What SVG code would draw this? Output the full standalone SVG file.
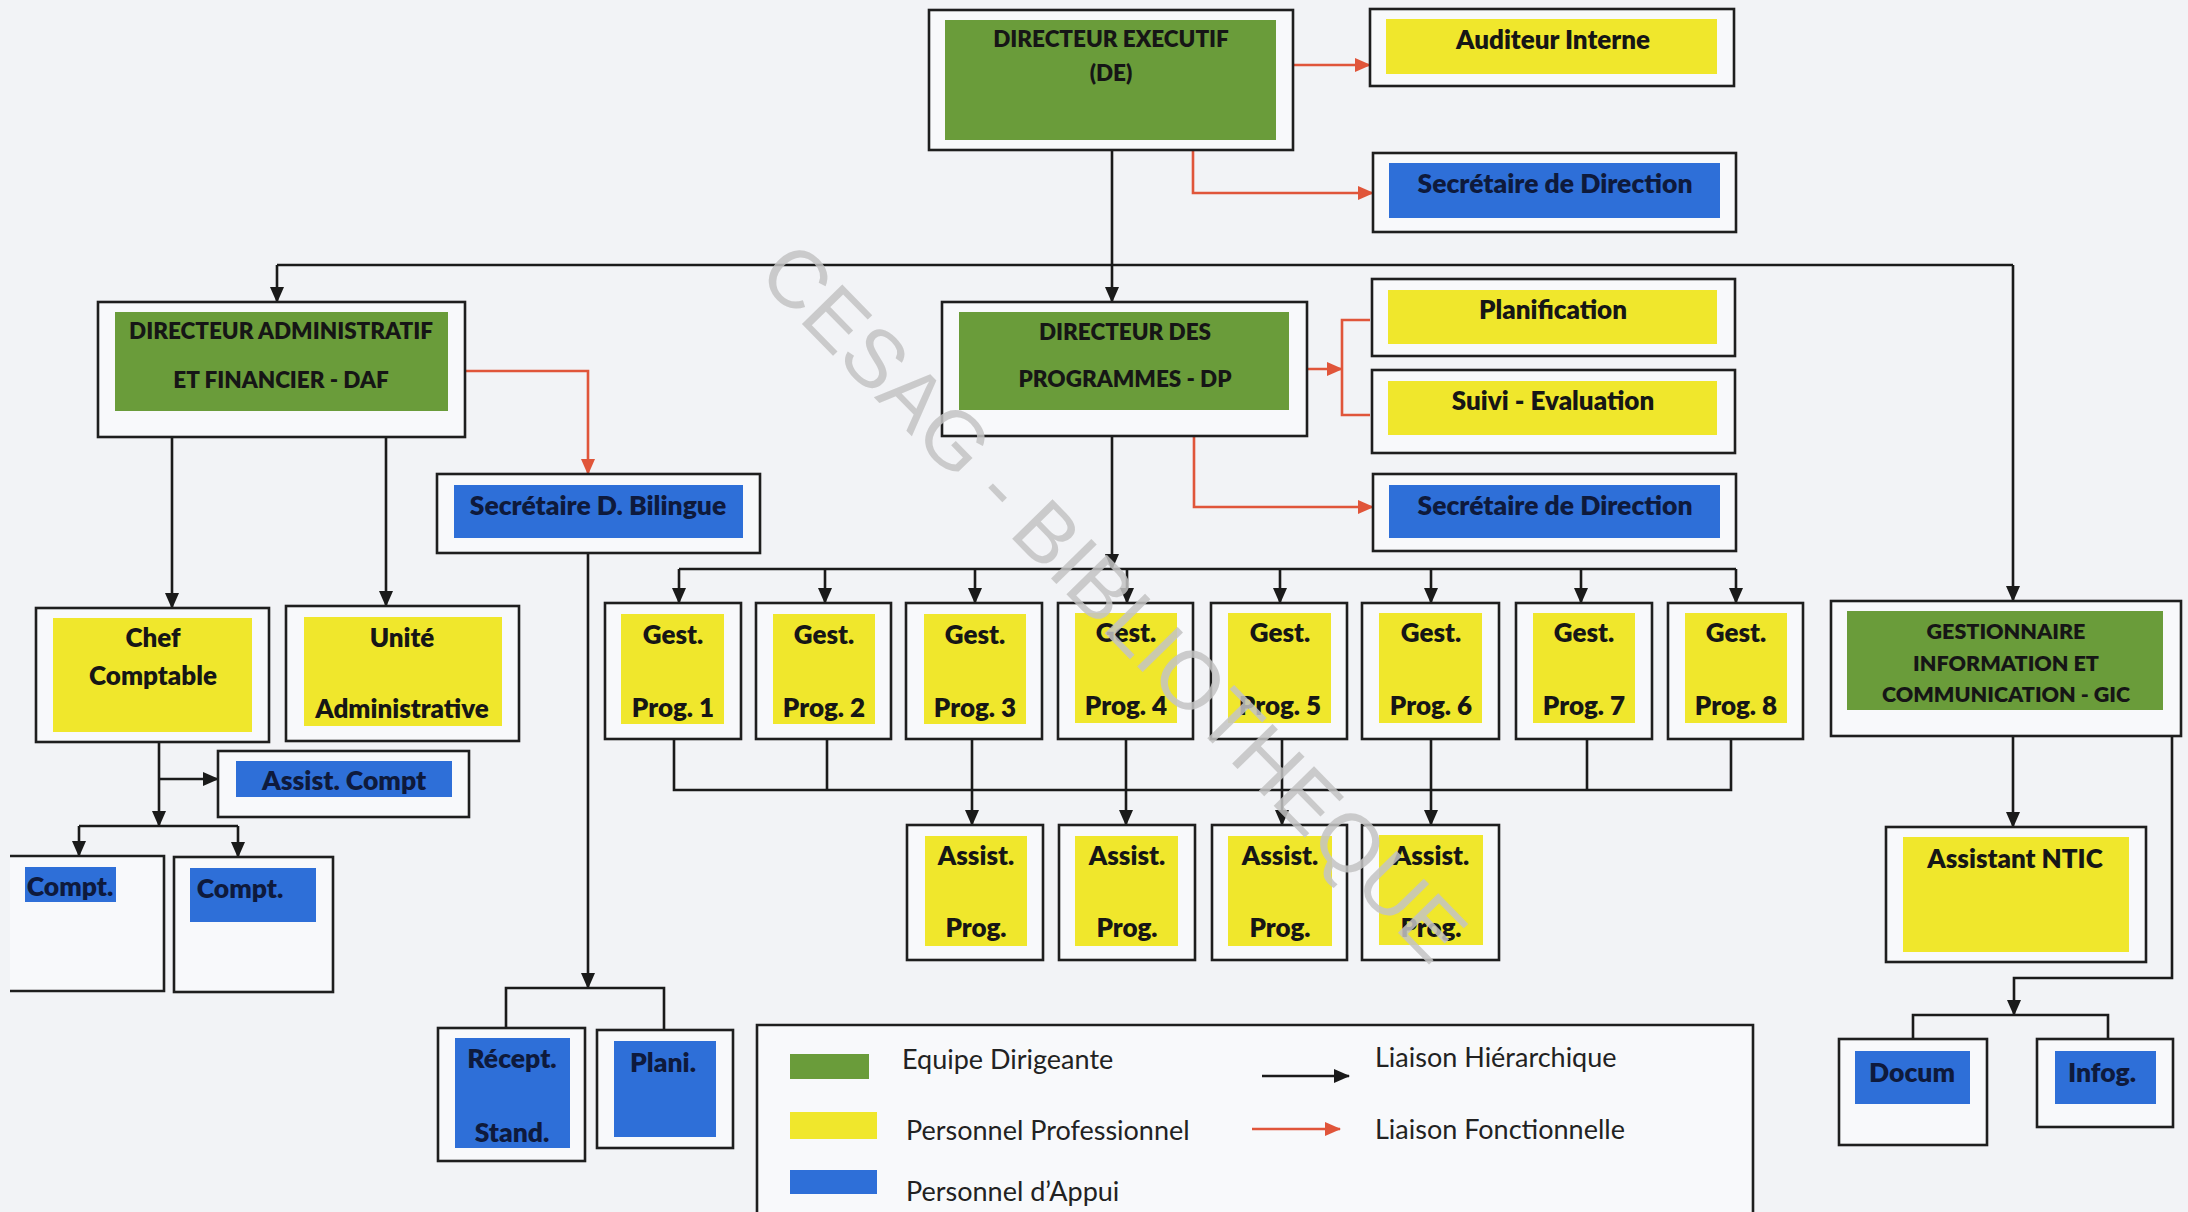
<svg xmlns="http://www.w3.org/2000/svg" width="2188" height="1212" viewBox="0 0 2188 1212">
<defs>
<marker id="ab" markerUnits="userSpaceOnUse" markerWidth="16" markerHeight="16" viewBox="0 0 16 16" refX="15" refY="8" orient="auto"><path d="M0,1 L16,8 L0,15 Z" fill="#1a1a1a"/></marker>
<marker id="ar" markerUnits="userSpaceOnUse" markerWidth="16" markerHeight="16" viewBox="0 0 16 16" refX="15" refY="8" orient="auto"><path d="M0,1 L16,8 L0,15 Z" fill="#e0553a"/></marker>
</defs>
<style>
.o{fill:#f8f9fb;stroke:#1e1e1e;stroke-width:2.6}
.g{fill:#6a9c3a}
.y{fill:#f0e72c}
.b{fill:#2e6fd8}
text{font-family:Lato,"Open Sans","Liberation Sans",sans-serif;font-weight:800;fill:#161616;text-anchor:middle;dominant-baseline:central}
.t{font-size:26px}
.h{font-size:22.5px}
.s{font-size:21.5px}
.bt{font-size:26.5px;fill:#0e1a3c}
.lg{font-weight:normal;font-size:27px;text-anchor:start;fill:#222}
.k{fill:none;stroke:#1a1a1a;stroke-width:2.6}
.kr{fill:none;stroke:#e0553a;stroke-width:2.6}
.ka{fill:none;stroke:#1a1a1a;stroke-width:2.6;marker-end:url(#ab)}
.ra{fill:none;stroke:#e0553a;stroke-width:2.6;marker-end:url(#ar)}
.wm{font-family:"Liberation Sans",Arial,sans-serif;font-weight:normal;font-size:82px;fill:#c4c4c4;opacity:0.85}
</style>
<rect width="2188" height="1212" fill="#f2f3f6"/>

<g id="connectors">
<path class="ra" d="M1293,65 H1370"/>
<path class="ra" d="M1193,150 V193 H1373"/>
<path class="ra" d="M465,371 H588 V474"/>
<path class="ra" d="M1307,369 H1342"/>
<path class="kr" d="M1370,320 H1342 V415 H1370"/>
<path class="ra" d="M1194,436 V507 H1373"/>

<path class="ka" d="M1112,150 V302"/>
<path class="k" d="M277,265 H2013"/>
<path class="ka" d="M277,265 V302"/>
<path class="ka" d="M2013,265 V601"/>
<path class="ka" d="M172,437 V608"/>
<path class="ka" d="M386,437 V606"/>
<path class="ka" d="M159,742 V826"/>
<path class="ka" d="M159,779 H218"/>
<path class="k" d="M79,826 H238"/>
<path class="ka" d="M79,826 V856"/>
<path class="ka" d="M238,826 V857"/>
<path class="ka" d="M588,553 V988"/>
<path class="k" d="M506,1028 V988 H664 V1030"/>

<path class="ka" d="M1112,436 V569"/>
<path class="k" d="M679,569 H1736"/>
<path class="ka" d="M679,569 V603"/>
<path class="ka" d="M825,569 V603"/>
<path class="ka" d="M975,569 V603"/>
<path class="ka" d="M1127,569 V603"/>
<path class="ka" d="M1280,569 V603"/>
<path class="ka" d="M1431,569 V603"/>
<path class="ka" d="M1581,569 V603"/>
<path class="ka" d="M1736,569 V603"/>

<path class="k" d="M674,739 V790 H1731 V739"/>
<path class="k" d="M827,739 V790"/>
<path class="k" d="M1587,739 V790"/>
<path class="ka" d="M972,739 V825"/>
<path class="ka" d="M1126,739 V825"/>
<path class="ka" d="M1282,739 V825"/>
<path class="ka" d="M1431,739 V825"/>

<path class="ka" d="M2013,736 V827"/>
<path class="ka" d="M2172,736 V978 H2014 V1015"/>
<path class="k" d="M1913,1039 V1015 H2108 V1039"/>
</g>

<g id="de"><rect class="o" x="929" y="10" width="364" height="140"/><rect class="g" x="945" y="20" width="331" height="120"/><text class="h" x="1111" y="38">DIRECTEUR EXECUTIF</text><text class="h" x="1111" y="72">(DE)</text></g>
<g id="auditeur"><rect class="o" x="1370" y="9" width="364" height="77"/><rect class="y" x="1386" y="19" width="331" height="55"/><text class="t" x="1553" y="39">Auditeur Interne</text></g>
<g id="secdir1"><rect class="o" x="1373" y="153" width="363" height="79"/><rect class="b" x="1389" y="163" width="331" height="55"/><text class="bt" x="1555" y="183">Secrétaire de Direction</text></g>
<g id="daf"><rect class="o" x="98" y="302" width="367" height="135"/><rect class="g" x="115" y="312" width="333" height="99"/><text class="h" x="281" y="330">DIRECTEUR ADMINISTRATIF</text><text class="h" x="281" y="379">ET FINANCIER - DAF</text></g>
<g id="secbil"><rect class="o" x="437" y="474" width="323" height="79"/><rect class="b" x="454" y="485" width="289" height="53"/><text class="bt" x="598" y="505">Secrétaire D. Bilingue</text></g>
<g id="dp"><rect class="o" x="942" y="302" width="365" height="134"/><rect class="g" x="959" y="312" width="330" height="98"/><text class="h" x="1125" y="331">DIRECTEUR DES</text><text class="h" x="1125" y="378">PROGRAMMES - DP</text></g>
<g id="planif"><rect class="o" x="1372" y="279" width="363" height="77"/><rect class="y" x="1388" y="290" width="329" height="54"/><text class="t" x="1553" y="309">Planification</text></g>
<g id="suivi"><rect class="o" x="1372" y="370" width="363" height="83"/><rect class="y" x="1388" y="381" width="329" height="54"/><text class="t" x="1553" y="400">Suivi - Evaluation</text></g>
<g id="secdir2"><rect class="o" x="1373" y="474" width="363" height="77"/><rect class="b" x="1389" y="485" width="331" height="53"/><text class="bt" x="1555" y="505">Secrétaire de Direction</text></g>

<g id="chef"><rect class="o" x="36" y="608" width="233" height="134"/><rect class="y" x="53" y="618" width="199" height="114"/><text class="t" x="153" y="637">Chef</text><text class="t" x="153" y="675">Comptable</text></g>
<g id="unite"><rect class="o" x="286" y="606" width="233" height="135"/><rect class="y" x="304" y="617" width="198" height="109"/><text class="t" x="402" y="637">Unité</text><text class="t" x="402" y="708">Administrative</text></g>
<g id="assistcompt"><rect class="o" x="218" y="751" width="251" height="66"/><rect class="b" x="236" y="761" width="216" height="36"/><text class="bt" x="344" y="780">Assist. Compt</text></g>
<g id="compt1"><path d="M10,856 H164 V991 H10" fill="#f8f9fb" stroke="#1e1e1e" stroke-width="2.6"/><rect class="b" x="25" y="867" width="91" height="35"/><text class="bt" x="70" y="886">Compt.</text></g>
<g id="compt2"><rect class="o" x="174" y="857" width="159" height="135"/><rect class="b" x="190" y="868" width="126" height="54"/><text class="bt" x="240" y="888">Compt.</text></g>
<g id="recept"><rect class="o" x="438" y="1028" width="147" height="133"/><rect class="b" x="455" y="1038" width="115" height="110"/><text class="bt" x="512" y="1058">Récept.</text><text class="bt" x="512" y="1132">Stand.</text></g>
<g id="plani"><rect class="o" x="597" y="1030" width="136" height="118"/><rect class="b" x="614" y="1041" width="102" height="96"/><text class="bt" x="663" y="1062">Plani.</text></g>

<g id="gest1"><rect class="o" x="605" y="603" width="136" height="136"/><rect class="y" x="621" y="614" width="103" height="110"/><text class="t" x="673" y="634">Gest.</text><text class="t" x="673" y="707">Prog. 1</text></g>
<g id="gest2"><rect class="o" x="756" y="603" width="135" height="136"/><rect class="y" x="773" y="614" width="102" height="110"/><text class="t" x="824" y="634">Gest.</text><text class="t" x="824" y="707">Prog. 2</text></g>
<g id="gest3"><rect class="o" x="906" y="603" width="136" height="136"/><rect class="y" x="924" y="614" width="102" height="110"/><text class="t" x="975" y="634">Gest.</text><text class="t" x="975" y="707">Prog. 3</text></g>
<g id="gest4"><rect class="o" x="1058" y="603" width="135" height="136"/><rect class="y" x="1075" y="613" width="102" height="110"/><text class="t" x="1126" y="632">Gest.</text><text class="t" x="1126" y="705">Prog. 4</text></g>
<g id="gest5"><rect class="o" x="1211" y="603" width="136" height="136"/><rect class="y" x="1228" y="613" width="103" height="110"/><text class="t" x="1280" y="632">Gest.</text><text class="t" x="1280" y="705">Prog. 5</text></g>
<g id="gest6"><rect class="o" x="1362" y="603" width="137" height="136"/><rect class="y" x="1379" y="613" width="103" height="110"/><text class="t" x="1431" y="632">Gest.</text><text class="t" x="1431" y="705">Prog. 6</text></g>
<g id="gest7"><rect class="o" x="1516" y="603" width="136" height="136"/><rect class="y" x="1533" y="613" width="102" height="110"/><text class="t" x="1584" y="632">Gest.</text><text class="t" x="1584" y="705">Prog. 7</text></g>
<g id="gest8"><rect class="o" x="1668" y="603" width="135" height="136"/><rect class="y" x="1685" y="613" width="102" height="110"/><text class="t" x="1736" y="632">Gest.</text><text class="t" x="1736" y="705">Prog. 8</text></g>

<g id="assist1"><rect class="o" x="907" y="825" width="136" height="135"/><rect class="y" x="925" y="836" width="102" height="110"/><text class="t" x="976" y="855">Assist.</text><text class="t" x="976" y="927">Prog.</text></g>
<g id="assist2"><rect class="o" x="1059" y="825" width="136" height="135"/><rect class="y" x="1075" y="836" width="103" height="110"/><text class="t" x="1127" y="855">Assist.</text><text class="t" x="1127" y="927">Prog.</text></g>
<g id="assist3"><rect class="o" x="1212" y="825" width="135" height="135"/><rect class="y" x="1228" y="836" width="104" height="110"/><text class="t" x="1280" y="855">Assist.</text><text class="t" x="1280" y="927">Prog.</text></g>
<g id="assist4"><rect class="o" x="1362" y="825" width="137" height="135"/><rect class="y" x="1379" y="835" width="104" height="110"/><text class="t" x="1431" y="855">Assist.</text><text class="t" x="1431" y="927">Prog.</text></g>

<g id="gic"><rect class="o" x="1831" y="601" width="350" height="135"/><rect class="g" x="1847" y="611" width="316" height="99"/><text class="s" x="2006" y="631">GESTIONNAIRE</text><text class="s" x="2006" y="663">INFORMATION ET</text><text class="s" x="2006" y="694">COMMUNICATION - GIC</text></g>
<g id="ntic"><rect class="o" x="1886" y="827" width="260" height="135"/><rect class="y" x="1903" y="837" width="226" height="115"/><text class="t" x="2015" y="858">Assistant NTIC</text></g>
<g id="docum"><rect class="o" x="1839" y="1039" width="148" height="106"/><rect class="b" x="1855" y="1051" width="115" height="53"/><text class="bt" x="1912" y="1072">Docum</text></g>
<g id="infog"><rect class="o" x="2037" y="1039" width="136" height="88"/><rect class="b" x="2055" y="1051" width="101" height="53"/><text class="bt" x="2102" y="1072">Infog.</text></g>

<g id="legend">
<path d="M757,1215 V1025 H1753 V1215" fill="#f8f9fb" stroke="#1e1e1e" stroke-width="2.6"/>
<rect class="g" x="790" y="1054" width="79" height="25"/>
<rect class="y" x="790" y="1112" width="87" height="27"/>
<rect class="b" x="790" y="1170" width="87" height="24"/>
<text class="lg" x="902" y="1058">Equipe Dirigeante</text>
<text class="lg" x="906" y="1129">Personnel Professionnel</text>
<text class="lg" x="906" y="1190">Personnel d’Appui</text>
<path class="ka" d="M1262,1076 H1349"/>
<path class="ra" d="M1252,1129 H1340"/>
<text class="lg" x="1375" y="1056">Liaison Hiérarchique</text>
<text class="lg" x="1375" y="1128">Liaison Fonctionnelle</text>
</g>

<text class="wm" x="1114" y="602" text-anchor="middle" dominant-baseline="alphabetic" transform="rotate(45.6 1114 602)">CESAG - BIBLIOTHEQUE</text>
</svg>
